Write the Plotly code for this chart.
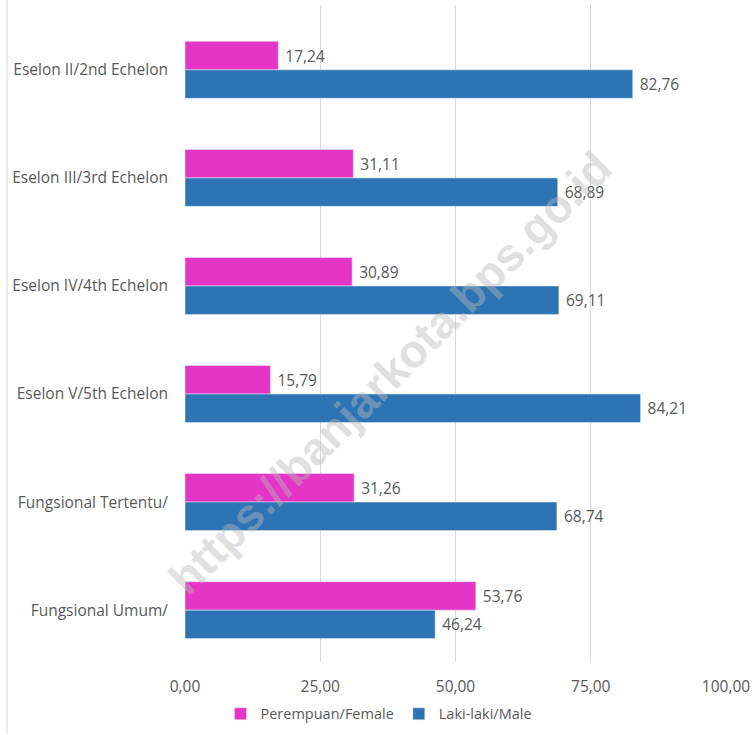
import plotly.graph_objects as go

categories = ["Eselon II/2nd Echelon", "Eselon III/3rd Echelon", "Eselon IV/4th Echelon",
              "Eselon V/5th Echelon", "Fungsional Tertentu/", "Fungsional Umum/"]
female = [17.24, 31.11, 30.89, 15.79, 31.26, 53.76]
male = [82.76, 68.89, 69.11, 84.21, 68.74, 46.24]
tick_vals = [0, 25, 50, 75, 100]

FONT = "Open Sans"
GREY = "#595959"
FS = 15.5

fig = go.Figure()
fig.add_trace(go.Bar(y=categories, x=female, orientation="h", name="Perempuan/Female",
                     marker=dict(color="#E535C6"), text=female, texttemplate="\u00a0%{x:.2f}",
                     textposition="outside", textfont=dict(family=FONT, size=FS, color=GREY),
                     cliponaxis=False))
fig.add_trace(go.Bar(y=categories, x=male, orientation="h", name="Laki-laki/Male",
                     marker=dict(color="#2E74B5"), text=male, texttemplate="\u00a0%{x:.2f}",
                     textposition="outside", textfont=dict(family=FONT, size=FS, color=GREY),
                     cliponaxis=False))

fig.update_layout(
    width=754, height=735,
    margin=dict(l=185, r=28, t=5, b=70),
    paper_bgcolor="white", plot_bgcolor="white",
    separators=",.",
    barmode="group", bargap=0.473, bargroupgap=0,
    font=dict(family=FONT, size=FS, color=GREY),
    showlegend=True,
    legend=dict(orientation="h", x=(379 - 185) / 541, xanchor="center", y=-0.079, yanchor="middle",
                font=dict(family=FONT, size=14.5, color=GREY), itemwidth=30),
    xaxis=dict(range=[0, 100], tickvals=tick_vals, tickformat=".2f", showgrid=True,
               gridcolor="#D9D9D9", gridwidth=1, zeroline=False, showline=False, automargin=False,
               ticks="", tickfont=dict(family=FONT, size=FS, color=GREY), ticklabelstandoff=13),
    yaxis=dict(range=[5.48, -0.6], showgrid=False, zeroline=False, showline=False, automargin=False,
               ticks="", tickfont=dict(family=FONT, size=FS, color=GREY), ticklabelstandoff=16),
    shapes=[dict(type="line", xref="paper", yref="paper", x0=-0.329, x1=-0.329,
                 y0=-0.11, y1=1.01, line=dict(color="#D9D9D9", width=1))],
    annotations=[dict(text="<b>https://banjarkota.bps.go.id</b>", xref="paper", yref="paper",
                      x=(390 - 185) / 541, y=(665 - 375) / 660, showarrow=False, textangle=-45,
                      font=dict(family="Liberation Sans", size=46, color="rgba(185,185,185,0.45)"))],
)

fig.write_html("out.html", config={"displayModeBar": False},
               post_script="document.body.style.margin='0';document.body.style.overflow='hidden';")
